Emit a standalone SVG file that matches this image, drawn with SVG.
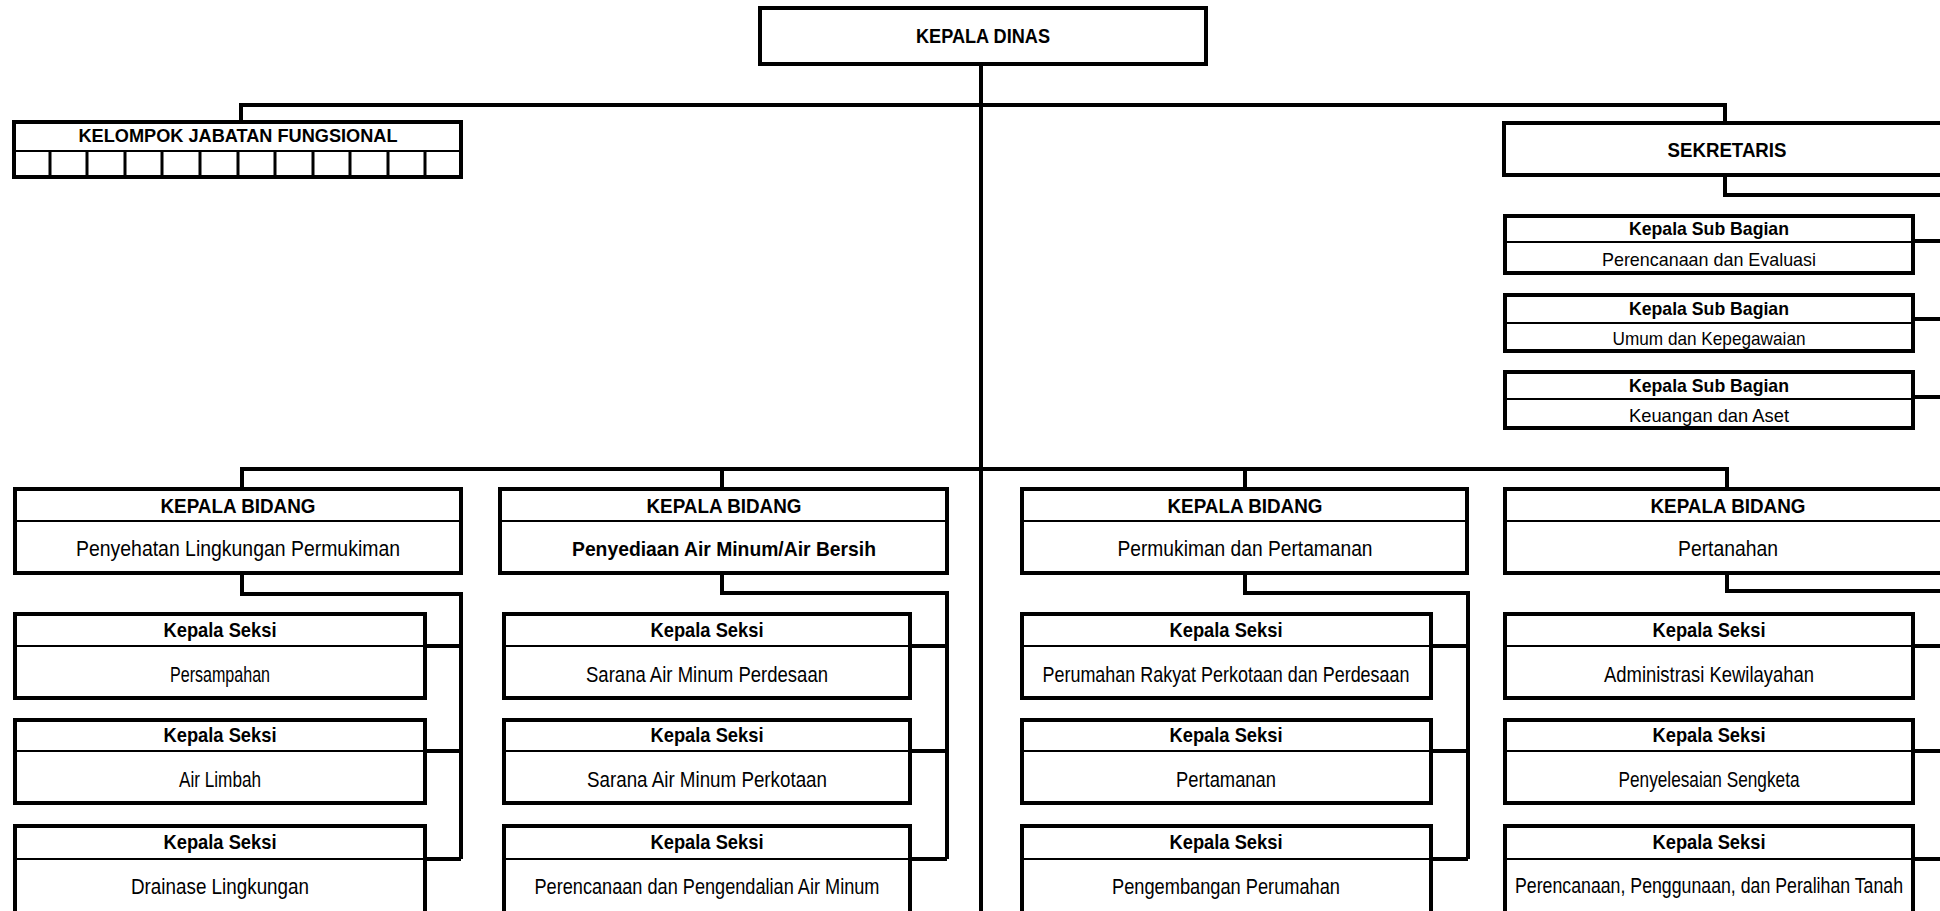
<svg xmlns="http://www.w3.org/2000/svg" width="1940" height="911" viewBox="0 0 1940 911">
  <style>
    .box { fill: #fff; stroke: #000; stroke-width: 4; }
    .sep { stroke: #000; stroke-width: 2; }
    .cell { stroke: #000; stroke-width: 3; }
    .conn { fill: none; stroke: #000; stroke-width: 4; stroke-linejoin: miter; }
    text { font-family: "Liberation Sans Narrow", "Liberation Sans", Arial, sans-serif; text-anchor: middle; fill: #000; }
    .hd { font-size: 20px; font-weight: bold; }
    .kj { font-size: 18px; font-weight: bold; }
    .ti { font-size: 21px; font-weight: bold; }
    .st { font-size: 21.5px; }
    .sb { font-size: 19px; font-weight: bold; }
    .sr { font-size: 19px; }
  </style>
  <rect width="1940" height="911" fill="#fff"/>

  <!-- connectors -->
  <g id="connectors">
    <path class="conn" d="M981 66 V915"/>
    <path class="conn" d="M241 121 V105 H1725 V122"/>
    <path class="conn" d="M1725 177 V195 H1945"/>
    <path class="conn" d="M1915 241 H1945 M1915 319 H1945 M1915 397 H1945"/>
    <path class="conn" d="M242 487 V469 H1727 V487 M722 469 V487 M1245 469 V487"/>
    <path class="conn" d="M242 575 V594 H461 V859 M427 646 H461 M427 751 H461 M427 859 H461"/>
    <path class="conn" d="M722 575 V593 H947 V859 M912 646 H947 M912 751 H947 M912 859 H947"/>
    <path class="conn" d="M1245 575 V593 H1468 V859 M1433 646 H1468 M1433 751 H1468 M1433 859 H1468"/>
    <path class="conn" d="M1727 575 V591 H1945 M1915 646 H1945 M1915 751 H1945 M1915 859 H1945"/>
  </g>

  <g id="kepala-dinas">
    <rect class="box" x="760" y="8" width="446" height="56"/>
    <text class="hd" x="983" y="43" textLength="134" lengthAdjust="spacingAndGlyphs">KEPALA DINAS</text>
  </g>

  <g id="kelompok-jabatan-fungsional">
    <rect class="box" x="14" y="122" width="447" height="55"/>
    <line class="sep" x1="14" y1="151" x2="461" y2="151"/>
    <path class="cell" d="M50 151 V177 M87 151 V177 M125 151 V177 M162 151 V177 M200 151 V177 M238 151 V177 M275 151 V177 M313 151 V177 M350 151 V177 M388 151 V177 M425 151 V177"/>
    <text class="kj" x="238" y="142" textLength="319" lengthAdjust="spacingAndGlyphs">KELOMPOK JABATAN FUNGSIONAL</text>
  </g>

  <g id="sekretaris">
    <rect class="box" x="1504" y="123" width="446" height="52"/>
    <text class="hd" x="1727" y="157" textLength="119" lengthAdjust="spacingAndGlyphs">SEKRETARIS</text>
  </g>

  <g id="subbag-perencanaan">
    <rect class="box" x="1505" y="216" width="408" height="57"/>
    <line class="sep" x1="1505" y1="242" x2="1913" y2="242"/>
    <text class="sb" x="1709" y="235" textLength="160" lengthAdjust="spacingAndGlyphs">Kepala Sub Bagian</text>
    <text class="sr" x="1709" y="266" textLength="214" lengthAdjust="spacingAndGlyphs">Perencanaan dan Evaluasi</text>
  </g>
  <g id="subbag-umum">
    <rect class="box" x="1505" y="295" width="408" height="56"/>
    <line class="sep" x1="1505" y1="323" x2="1913" y2="323"/>
    <text class="sb" x="1709" y="315" textLength="160" lengthAdjust="spacingAndGlyphs">Kepala Sub Bagian</text>
    <text class="sr" x="1709" y="345" textLength="193" lengthAdjust="spacingAndGlyphs">Umum dan Kepegawaian</text>
  </g>
  <g id="subbag-keuangan">
    <rect class="box" x="1505" y="372" width="408" height="56"/>
    <line class="sep" x1="1505" y1="399" x2="1913" y2="399"/>
    <text class="sb" x="1709" y="392" textLength="160" lengthAdjust="spacingAndGlyphs">Kepala Sub Bagian</text>
    <text class="sr" x="1709" y="422" textLength="160" lengthAdjust="spacingAndGlyphs">Keuangan dan Aset</text>
  </g>

  <!-- bidang -->
  <g id="bidang-plp">
    <rect class="box" x="15" y="489" width="446" height="84"/>
    <line class="sep" x1="15" y1="521" x2="461" y2="521"/>
    <text class="ti" x="238" y="513" textLength="155" lengthAdjust="spacingAndGlyphs">KEPALA BIDANG</text>
    <text class="st" x="238" y="556" textLength="324" lengthAdjust="spacingAndGlyphs">Penyehatan Lingkungan Permukiman</text>
  </g>
  <g id="bidang-air-minum">
    <rect class="box" x="500" y="489" width="447" height="84"/>
    <line class="sep" x1="500" y1="521" x2="947" y2="521"/>
    <text class="ti" x="724" y="513" textLength="155" lengthAdjust="spacingAndGlyphs">KEPALA BIDANG</text>
    <text class="ti" x="724" y="556" textLength="304" lengthAdjust="spacingAndGlyphs">Penyediaan Air Minum/Air Bersih</text>
  </g>
  <g id="bidang-permukiman">
    <rect class="box" x="1022" y="489" width="445" height="84"/>
    <line class="sep" x1="1022" y1="521" x2="1467" y2="521"/>
    <text class="ti" x="1245" y="513" textLength="155" lengthAdjust="spacingAndGlyphs">KEPALA BIDANG</text>
    <text class="st" x="1245" y="556" textLength="255" lengthAdjust="spacingAndGlyphs">Permukiman dan Pertamanan</text>
  </g>
  <g id="bidang-pertanahan">
    <rect class="box" x="1505" y="489" width="446" height="84"/>
    <line class="sep" x1="1505" y1="521" x2="1951" y2="521"/>
    <text class="ti" x="1728" y="513" textLength="155" lengthAdjust="spacingAndGlyphs">KEPALA BIDANG</text>
    <text class="st" x="1728" y="556" textLength="100" lengthAdjust="spacingAndGlyphs">Pertanahan</text>
  </g>

  <!-- seksi, column 1 -->
  <g id="seksi-persampahan">
    <rect class="box" x="15" y="614" width="410" height="84"/>
    <line class="sep" x1="15" y1="646" x2="425" y2="646"/>
    <text class="ti" x="220" y="637" textLength="113" lengthAdjust="spacingAndGlyphs">Kepala Seksi</text>
    <text class="st" x="220" y="682" textLength="100" lengthAdjust="spacingAndGlyphs">Persampahan</text>
  </g>
  <g id="seksi-air-limbah">
    <rect class="box" x="15" y="720" width="410" height="83"/>
    <line class="sep" x1="15" y1="751" x2="425" y2="751"/>
    <text class="ti" x="220" y="742" textLength="113" lengthAdjust="spacingAndGlyphs">Kepala Seksi</text>
    <text class="st" x="220" y="787" textLength="82" lengthAdjust="spacingAndGlyphs">Air Limbah</text>
  </g>
  <g id="seksi-drainase">
    <rect class="box" x="15" y="826" width="410" height="92"/>
    <line class="sep" x1="15" y1="859" x2="425" y2="859"/>
    <text class="ti" x="220" y="849" textLength="113" lengthAdjust="spacingAndGlyphs">Kepala Seksi</text>
    <text class="st" x="220" y="894" textLength="178" lengthAdjust="spacingAndGlyphs">Drainase Lingkungan</text>
  </g>

  <!-- seksi, column 2 -->
  <g id="seksi-sam-perdesaan">
    <rect class="box" x="504" y="614" width="406" height="84"/>
    <line class="sep" x1="504" y1="646" x2="910" y2="646"/>
    <text class="ti" x="707" y="637" textLength="113" lengthAdjust="spacingAndGlyphs">Kepala Seksi</text>
    <text class="st" x="707" y="682" textLength="242" lengthAdjust="spacingAndGlyphs">Sarana Air Minum Perdesaan</text>
  </g>
  <g id="seksi-sam-perkotaan">
    <rect class="box" x="504" y="720" width="406" height="83"/>
    <line class="sep" x1="504" y1="751" x2="910" y2="751"/>
    <text class="ti" x="707" y="742" textLength="113" lengthAdjust="spacingAndGlyphs">Kepala Seksi</text>
    <text class="st" x="707" y="787" textLength="240" lengthAdjust="spacingAndGlyphs">Sarana Air Minum Perkotaan</text>
  </g>
  <g id="seksi-perencanaan-am">
    <rect class="box" x="504" y="826" width="406" height="92"/>
    <line class="sep" x1="504" y1="859" x2="910" y2="859"/>
    <text class="ti" x="707" y="849" textLength="113" lengthAdjust="spacingAndGlyphs">Kepala Seksi</text>
    <text class="st" x="707" y="894" textLength="345" lengthAdjust="spacingAndGlyphs">Perencanaan dan Pengendalian Air Minum</text>
  </g>

  <!-- seksi, column 3 -->
  <g id="seksi-perumahan-rakyat">
    <rect class="box" x="1022" y="614" width="409" height="84"/>
    <line class="sep" x1="1022" y1="646" x2="1431" y2="646"/>
    <text class="ti" x="1226" y="637" textLength="113" lengthAdjust="spacingAndGlyphs">Kepala Seksi</text>
    <text class="st" x="1226" y="682" textLength="367" lengthAdjust="spacingAndGlyphs">Perumahan Rakyat Perkotaan dan Perdesaan</text>
  </g>
  <g id="seksi-pertamanan">
    <rect class="box" x="1022" y="720" width="409" height="83"/>
    <line class="sep" x1="1022" y1="751" x2="1431" y2="751"/>
    <text class="ti" x="1226" y="742" textLength="113" lengthAdjust="spacingAndGlyphs">Kepala Seksi</text>
    <text class="st" x="1226" y="787" textLength="100" lengthAdjust="spacingAndGlyphs">Pertamanan</text>
  </g>
  <g id="seksi-pengembangan">
    <rect class="box" x="1022" y="826" width="409" height="92"/>
    <line class="sep" x1="1022" y1="859" x2="1431" y2="859"/>
    <text class="ti" x="1226" y="849" textLength="113" lengthAdjust="spacingAndGlyphs">Kepala Seksi</text>
    <text class="st" x="1226" y="894" textLength="228" lengthAdjust="spacingAndGlyphs">Pengembangan Perumahan</text>
  </g>

  <!-- seksi, column 4 -->
  <g id="seksi-administrasi">
    <rect class="box" x="1505" y="614" width="408" height="84"/>
    <line class="sep" x1="1505" y1="646" x2="1913" y2="646"/>
    <text class="ti" x="1709" y="637" textLength="113" lengthAdjust="spacingAndGlyphs">Kepala Seksi</text>
    <text class="st" x="1709" y="682" textLength="210" lengthAdjust="spacingAndGlyphs">Administrasi Kewilayahan</text>
  </g>
  <g id="seksi-sengketa">
    <rect class="box" x="1505" y="720" width="408" height="83"/>
    <line class="sep" x1="1505" y1="751" x2="1913" y2="751"/>
    <text class="ti" x="1709" y="742" textLength="113" lengthAdjust="spacingAndGlyphs">Kepala Seksi</text>
    <text class="st" x="1709" y="787" textLength="181" lengthAdjust="spacingAndGlyphs">Penyelesaian Sengketa</text>
  </g>
  <g id="seksi-perencanaan-tanah">
    <rect class="box" x="1505" y="826" width="408" height="92"/>
    <line class="sep" x1="1505" y1="859" x2="1913" y2="859"/>
    <text class="ti" x="1709" y="849" textLength="113" lengthAdjust="spacingAndGlyphs">Kepala Seksi</text>
    <text class="st" x="1709" y="893" font-size="21px" textLength="388" lengthAdjust="spacingAndGlyphs">Perencanaan, Penggunaan, dan Peralihan Tanah</text>
  </g>
</svg>
